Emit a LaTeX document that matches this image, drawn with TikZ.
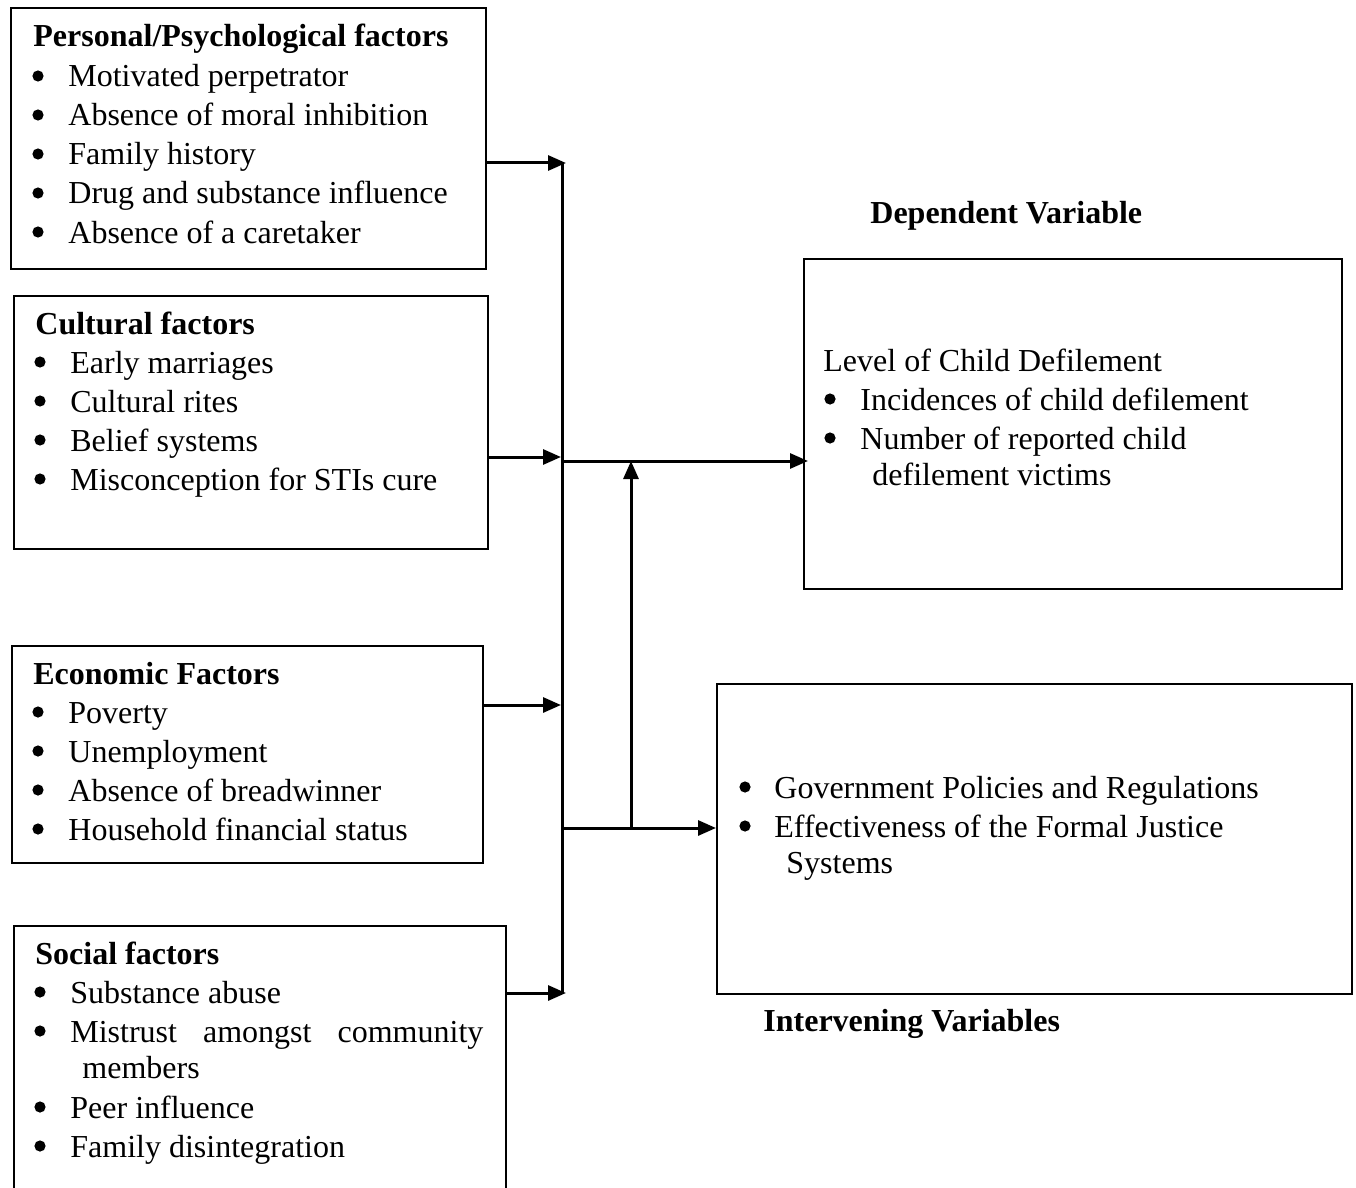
\documentclass[tikz,border=0pt]{standalone}
\usepackage{fontspec}
\setmainfont{Liberation Serif}
\usetikzlibrary{arrows.meta}
\tikzset{
  box/.style={draw, line width=0.9pt, inner sep=0pt, anchor=north west},
  txt/.style={anchor=base west, inner sep=0pt, font=\fontsize{16}{19.5}\selectfont},
  hd/.style={anchor=base west, inner sep=0pt, font=\fontsize{16}{19.5}\selectfont\bfseries},
  bul/.style={circle, fill=black, inner sep=0pt, minimum size=5.6pt, yshift=5.5pt},
  ln/.style={line width=1.5pt},
  arr/.style={line width=1.5pt, -{Triangle[length=9pt,width=7.5pt]}}
}
\begin{document}
\begin{tikzpicture}[x=0.5pt,y=-0.5pt]
\clip (0,0) rectangle (1356,1188);
\fill[white] (0,0) rectangle (1356,1188);

% boxes
\node[box, minimum width=237.5pt, minimum height=130.5pt] (p1) at (10,7) {};
\node[box, minimum width=237pt, minimum height=126.5pt] (p2) at (13,295) {};
\node[box, minimum width=235.5pt, minimum height=108.5pt] (p3) at (11,645) {};
\node[box, minimum width=246pt, minimum height=145pt] (p4) at (13,925) {};
\node[box, minimum width=269pt, minimum height=165pt] (dv) at (803,258) {};
\node[box, minimum width=317.5pt, minimum height=155pt] (iv) at (716,683) {};

% box 1
\node[hd] (h1) at (33,47) {Personal/Psychological factors};
\node[bul] (b11) at (38,87) {}; \node[txt] (t11) at (68,87) {Motivated perpetrator};
\node[bul] (b12) at (38,126) {}; \node[txt] (t12) at (68,126) {Absence of moral inhibition};
\node[bul] (b13) at (38,165) {}; \node[txt] (t13) at (68,165) {Family history};
\node[bul] (b14) at (38,204) {}; \node[txt] (t14) at (68,204) {Drug and substance influence};
\node[bul] (b15) at (38,243) {}; \node[txt] (t15) at (68,243) {Absence of a caretaker};

% box 2
\node[hd] (h2) at (35,334) {Cultural factors};
\node[bul] (b21) at (40,373) {}; \node[txt] (t21) at (70,373) {Early marriages};
\node[bul] (b22) at (40,412) {}; \node[txt] (t22) at (70,412) {Cultural rites};
\node[bul] (b23) at (40,451) {}; \node[txt] (t23) at (70,451) {Belief systems};
\node[bul] (b24) at (40,490) {}; \node[txt] (t24) at (70,490) {Misconception for STIs cure};

% box 3
\node[hd] (h3) at (33,684) {Economic Factors};
\node[bul] (b31) at (38,723) {}; \node[txt] (t31) at (68,723) {Poverty};
\node[bul] (b32) at (38,762) {}; \node[txt] (t32) at (68,762) {Unemployment};
\node[bul] (b33) at (38,801) {}; \node[txt] (t33) at (68,801) {Absence of breadwinner};
\node[bul] (b34) at (38,840) {}; \node[txt] (t34) at (68,840) {Household financial status};

% box 4
\node[hd] (h4) at (35,964) {Social factors};
\node[bul] (b41) at (40,1003) {}; \node[txt] (t41) at (70,1003) {Substance abuse};
\node[bul] (b42) at (40,1042) {}; \node[txt] (t42) at (70,1042) {\makebox[206.5pt][s]{Mistrust amongst community}};
\node[txt] (t42b) at (82,1078) {members};
\node[bul] (b43) at (40,1118) {}; \node[txt] (t43) at (70,1118) {Peer influence};
\node[bul] (b44) at (40,1157) {}; \node[txt] (t44) at (70,1157) {Family disintegration};

% dependent variable
\node[hd] (dvh) at (870,224) {Dependent Variable};
\node[txt] (d0) at (823,371) {Level of Child Defilement};
\node[bul] (db1) at (830,410) {}; \node[txt] (d1) at (860,410) {Incidences of child defilement};
\node[bul] (db2) at (830,449) {}; \node[txt] (d2) at (860,449) {Number of reported child};
\node[txt] (d3) at (872,485) {defilement victims};

% intervening variables
\node[bul] (ib1) at (745,798) {}; \node[txt] (i1) at (774,798) {Government Policies and Regulations};
\node[bul] (ib2) at (745,837) {}; \node[txt] (i2) at (774,837) {Effectiveness of the Formal Justice};
\node[txt] (i3) at (786,873) {Systems};
\node[hd] (ivh) at (763,1031) {Intervening Variables};

% junction coordinates
\coordinate (vt) at (562,163);
\coordinate (vb) at (562,993);
\coordinate (j2) at (561,457);
\coordinate (j3) at (561,705);
\coordinate (jd) at (562,461);
\coordinate (ji) at (562,828);
\coordinate (mu) at (631,828);
\coordinate (md) at (631,461);

% connectors
\draw[ln] (vt) -- (vb);
\draw[arr] (p1.east |- vt) -- ([xshift=2pt]vt);
\draw[arr] (p2.east |- j2) -- (j2);
\draw[arr] (p3.east |- j3) -- (j3);
\draw[arr] (p4.east |- vb) -- ([xshift=2pt]vb);
\draw[arr] (jd) -- ([xshift=2.5pt]dv.west |- jd);
\draw[arr] (ji) -- (iv.west |- ji);
\draw[arr] (mu) -- (md);
\end{tikzpicture}
\end{document}
